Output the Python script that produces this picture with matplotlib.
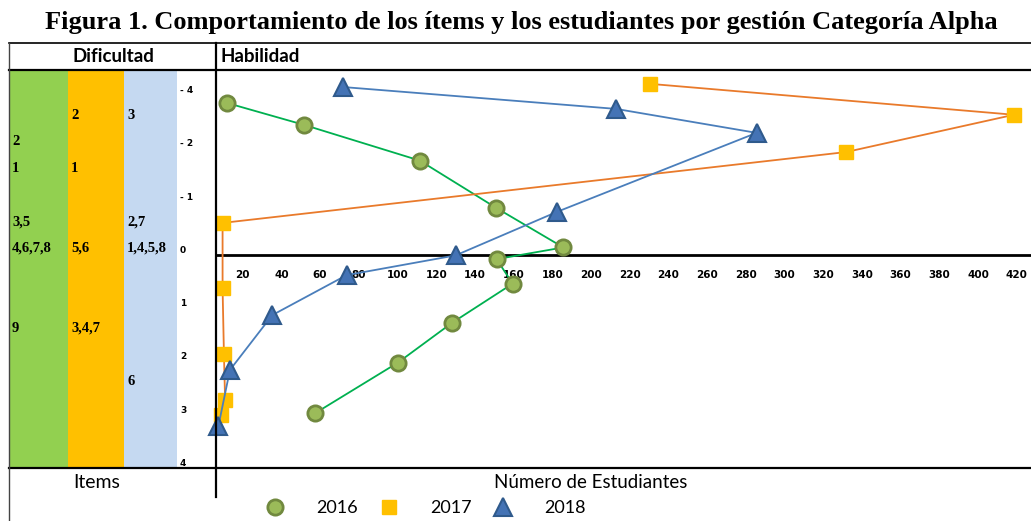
import matplotlib
matplotlib.use("Agg")
import matplotlib.pyplot as plt
from matplotlib.lines import Line2D

W, H = 1031, 521

# abilities (y) and number of students (x) per year
x_2016 = [12.0, 51.7, 111.5, 151.1, 185.7, 151.2, 159.5, 128.0, 100.3, 57.5]
y_2016 = [-2.85, -2.44, -1.77, -0.88, -0.14, 0.08, 0.54, 1.28, 2.02, 2.97]

x_2017 = [230.5, 418.6, 331.8, 9.6, 9.6, 10.3, 10.9, 8.6]
y_2017 = [-3.21, -2.63, -1.93, -0.60, 0.63, 1.86, 2.72, 3.00]

x_2018 = [72.0, 212.9, 285.6, 182.6, 130.0, 73.7, 35.3, 13.4, 7.4]
y_2018 = [-3.15, -2.74, -2.29, -0.81, 0.01, 0.38, 1.13, 2.16, 3.22]

# item difficulties per year (left table)
items_2016 = ["2", "1", "3,5", "4,6,7,8", "9"]
diff_2016 = [-2.0, -1.5, -0.5, 0.0, 1.5]
items_2017 = ["2", "1", "5,6", "3,4,7"]
diff_2017 = [-2.5, -1.5, 0.0, 1.5]
items_2018 = ["3", "2,7", "1,4,5,8", "6"]
diff_2018 = [-2.5, -0.5, 0.0, 2.5]

y_ticks = [-3, -2, -1, 0, 1, 2, 3, 4]
y_tick_labels = ["- 4", "- 2", "- 1", "0", "1", "2", "3", "4"]
x_ticks = list(range(20, 421, 20))

title = "Figura 1. Comportamiento de los ítems y los estudiantes por gestión Categoría Alpha"

fig = plt.figure(figsize=(W / 100, H / 100), dpi=100)
fig.patch.set_facecolor("white")


def fx(px):
    return px / W


def fy(py):
    return 1 - py / H


ylim = (4.0, -3.47)

# left table with item columns
axl = fig.add_axes([fx(9), fy(468), (216 - 9) / W, (468 - 70) / H])
axl.set_xlim(9, 216)
axl.set_ylim(*ylim)
axl.axis("off")
cols = [(9, 68, "#92D050", items_2016, diff_2016),
        (68, 124, "#FFC000", items_2017, diff_2017),
        (124, 177, "#C5D9F1", items_2018, diff_2018)]
for x0, x1, c, labs, vals in cols:
    axl.axvspan(x0, x1, color=c, lw=0)
    for lab, v in zip(labs, vals):
        axl.text(x0 + 3, v, lab, va="bottom", ha="left",
                 fontfamily="Liberation Serif", fontweight="bold", fontsize=10.5)

# main chart
ax = fig.add_axes([fx(216), fy(468), (W - 216) / W, (468 - 70) / H])
ax.set_facecolor("none")
ax.set_xlim(6.2, 427.4)
ax.set_ylim(*ylim)

ax.plot(x_2016, y_2016, color="#00B050", lw=1.3, marker="o", ms=11,
        mfc="#9BBB59", mec="#71893F", mew=2, clip_on=False, zorder=3)
ax.plot(x_2017, y_2017, color="#E97A2B", lw=1.3, marker="s", ms=10.5,
        mfc="#FFC000", mec="#FFC000", clip_on=False, zorder=3)
ax.plot(x_2018, y_2018, color="#4A7EBB", lw=1.3, marker="^", ms=13,
        mfc="#4473B5", mec="#2F5A8C", mew=1.5, clip_on=False, zorder=4)

for s in ["top", "right", "left"]:
    ax.spines[s].set_visible(False)
ax.spines["bottom"].set_position(("data", 0))
ax.spines["bottom"].set_linewidth(2)
ax.spines["bottom"].set_color("black")

ax.set_xticks(x_ticks)
ax.set_xticklabels([str(t) for t in x_ticks], fontweight="bold", fontsize=7.5)
ax.tick_params(axis="x", length=0, pad=11, colors="black")
ax.set_yticks(y_ticks)
ax.set_yticklabels(y_tick_labels, fontweight="bold", fontsize=6.5, ha="left", va="bottom")
ax.tick_params(axis="y", length=0, pad=26)

# table lines
def hline(py, x0, x1, lw):
    fig.add_artist(Line2D([fx(x0), fx(x1)], [fy(py), fy(py)], color="black", lw=lw))


def vline(px, y0, y1, lw, color="black"):
    fig.add_artist(Line2D([fx(px), fx(px)], [fy(y0), fy(y1)], color=color, lw=lw))


hline(43, 9, W, 1.2)
hline(70, 9, W, 1.6)
hline(468, 9, W, 1.6)
vline(9, 43, H, 1.0, "#444444")
vline(216, 43, 497, 1.6)

# texts
fig.text(fx(521), fy(22), title, ha="center", va="center",
         fontfamily="Liberation Serif", fontweight="bold", fontsize=19)
fig.text(fx(113), fy(57), "Dificultad", ha="center", va="center",
         fontfamily="Lato", fontweight="bold", fontsize=13.5)
fig.text(fx(221), fy(57), "Habilidad", ha="left", va="center",
         fontfamily="Lato", fontweight="bold", fontsize=13.5)
fig.text(fx(97), fy(483), "Items", ha="center", va="center",
         fontfamily="Lato", fontsize=14)
fig.text(fx(591), fy(483), "Número de Estudiantes", ha="center", va="center",
         fontfamily="Lato", fontsize=13.5)

handles = [
    Line2D([], [], ls="none", marker="o", ms=11, mfc="#9BBB59", mec="#71893F", mew=2),
    Line2D([], [], ls="none", marker="s", ms=10.5, mfc="#FFC000", mec="#FFC000"),
    Line2D([], [], ls="none", marker="^", ms=13, mfc="#4473B5", mec="#2F5A8C", mew=1.5),
]
fig.legend(handles, ["2016", "2017", "2018"], loc="center", ncol=3,
           bbox_to_anchor=(fx(426), fy(508)), frameon=False,
           prop={"family": "Lato", "size": 13},
           handlelength=1, handletextpad=1.8, columnspacing=1.2,
           borderpad=0, borderaxespad=0)

fig.savefig("out.png", dpi=100)
